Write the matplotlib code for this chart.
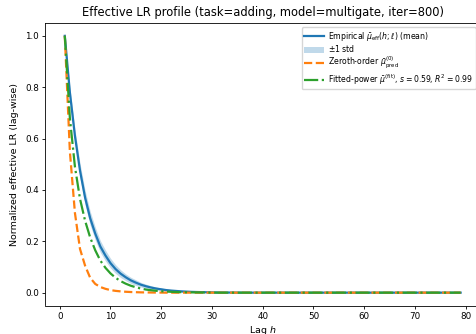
import numpy as np
import matplotlib
matplotlib.use("Agg")
import matplotlib.pyplot as plt

lags = list(range(1, 80))

empirical_head = [1.0, 0.78, 0.61, 0.475, 0.37, 0.29, 0.23, 0.18, 0.145, 0.115,
                  0.092, 0.074, 0.06, 0.048, 0.039, 0.031, 0.025, 0.02, 0.016, 0.013,
                  0.010, 0.008, 0.0065, 0.005, 0.004, 0.003, 0.0025, 0.002, 0.0015, 0.001,
                  0.0008, 0.0006, 0.0005, 0.0004, 0.0003]
empirical_std_head = [0.0, 0.02, 0.026, 0.028, 0.028, 0.027, 0.025, 0.023, 0.021, 0.019,
                      0.017, 0.015, 0.013, 0.012, 0.011, 0.009, 0.008, 0.007, 0.006, 0.005,
                      0.0045, 0.004, 0.0033, 0.0027, 0.0023, 0.002, 0.0017, 0.0014, 0.0012, 0.001,
                      0.0008, 0.0007, 0.0006, 0.0005, 0.0004]
zeroth_head = [1.0, 0.55, 0.31, 0.17, 0.105, 0.058, 0.034, 0.022, 0.015, 0.01,
               0.007, 0.005, 0.0035, 0.0025, 0.0018, 0.0012, 0.0009, 0.0006, 0.0004, 0.0003]
fitted_head = [1.0, 0.68, 0.49, 0.365, 0.28, 0.215, 0.165, 0.125, 0.097, 0.075,
               0.058, 0.045, 0.035, 0.027, 0.021, 0.016, 0.012, 0.0095, 0.0073, 0.0056,
               0.0043, 0.0033, 0.0025, 0.0019, 0.0015, 0.0011, 0.0009, 0.0007, 0.0005, 0.0004]

n = len(lags)
empirical = np.array(empirical_head + [0.0] * (n - len(empirical_head)))
empirical_std = np.array(empirical_std_head + [0.0] * (n - len(empirical_std_head)))
zeroth = np.array(zeroth_head + [0.0] * (n - len(zeroth_head)))
fitted = np.array(fitted_head + [0.0] * (n - len(fitted_head)))
h = np.array(lags)

fig = plt.figure(figsize=(4.77, 3.34), dpi=100)
W, H = 477, 334
x0, x1 = 45, 480.4
y_top, y_bot = 23, 305.5
ax = fig.add_axes([x0 / W, (H - y_bot) / H, (x1 - x0) / W, (y_bot - y_top) / H])

ax.plot(h, empirical, color="#1f77b4", lw=1.6,
        label=r"Empirical $\bar{\mu}_{\rm eff}(h;\ell)$ (mean)")
ax.fill_between(h, empirical - empirical_std, empirical + empirical_std,
                color="#1f77b4", alpha=0.28, lw=0, label=r"$\pm$1 std")
ax.plot(h, zeroth, color="#ff7f0e", lw=1.6, ls="--",
        label=r"Zeroth-order $\bar{\mu}^{(0)}_{\rm pred}$")
ax.plot(h, fitted, color="#2ca02c", lw=1.6, ls="-.",
        label=r"Fitted-power $\bar{\mu}^{\rm (fit)}$, $s=0.59$, $R^2=0.99$")

ax.set_xlim(-2.9, 82.9)
ax.set_ylim(-0.05, 1.05)
ax.set_xticks([0, 10, 20, 30, 40, 50, 60, 70, 80])
ax.set_yticks([0.0, 0.2, 0.4, 0.6, 0.8, 1.0])
ax.tick_params(labelsize=6.3, length=2.5, width=0.6, pad=2)
for s in ax.spines.values():
    s.set_linewidth(0.6)
ax.set_title("Effective LR profile (task=adding, model=multigate, iter=800)",
             fontsize=8.3, pad=5)
ax.set_xlabel(r"Lag $h$", fontsize=6.8, labelpad=2)
ax.set_ylabel("Normalized effective LR (lag-wise)", fontsize=6.8, labelpad=4)
ax.legend(fontsize=5.6, loc="upper right",
          bbox_to_anchor=((476 - x0) / (x1 - x0), (y_bot - 27) / (y_bot - y_top)),
          borderaxespad=0, framealpha=0.8, edgecolor="#cccccc",
          labelspacing=0.1, handlelength=2.5, borderpad=0.35, handletextpad=0.6)

fig.savefig("out.png", dpi=100)
